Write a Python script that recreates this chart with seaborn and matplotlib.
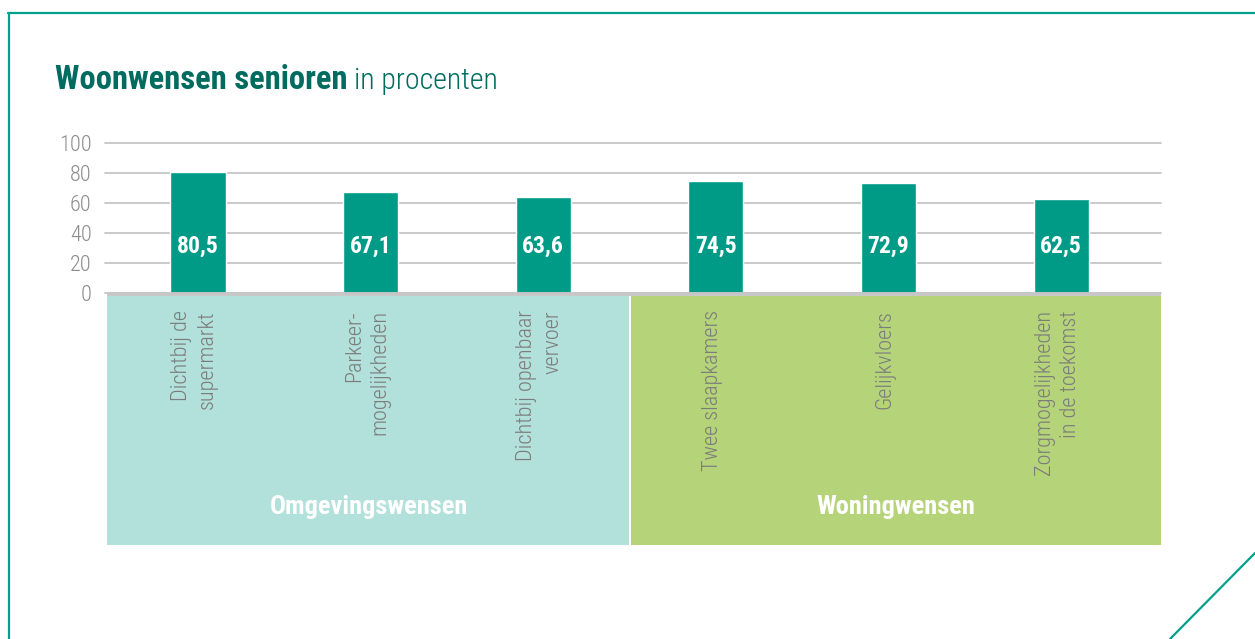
import matplotlib
matplotlib.use("Agg")
import matplotlib.pyplot as plt
from matplotlib.patches import Rectangle
from matplotlib.lines import Line2D
import seaborn as sns
import pandas as pd

# ---- data ----
categories = ["Dichtbij de\nsupermarkt", "Parkeer-\nmogelijkheden", "Dichtbij openbaar\nvervoer",
              "Twee slaapkamers", "Gelijkvloers", "Zorgmogelijkheden\nin de toekomst"]
groups = ["Omgevingswensen", "Omgevingswensen", "Omgevingswensen",
          "Woningwensen", "Woningwensen", "Woningwensen"]
values = [80.5, 67.1, 63.6, 74.5, 72.9, 62.5]
group_names = ["Omgevingswensen", "Woningwensen"]
yticks = [0, 20, 40, 60, 80, 100]

# ---- style ----
sns.set_style("white")
plt.rcParams['font.family'] = ['Roboto Condensed', 'DejaVu Sans']

TEAL = "#009B87"
DARK = "#006B5F"
PANEL = ["#B2E0DB", "#B5D47A"]
GRID = "#C6C6C6"
TICK = "#8C8C8C"
LABEL = "#7C7C7C"

W, H = 1255, 639
fig = plt.figure(figsize=(W / 100, H / 100), dpi=100)

# axes placement (pixels -> fractions)
ax_l, ax_r, ax_t, ax_b = 107, 1161, 138, 545
ax = fig.add_axes([ax_l / W, 1 - ax_b / H, (ax_r - ax_l) / W, (ax_b - ax_t) / H])

df = pd.DataFrame({"cat": categories, "value": values, "group": groups})
sns.barplot(data=df, x="cat", y="value", order=categories, width=0.319,
            color=TEAL, saturation=1, ax=ax, zorder=3, errorbar=None)

x0, x1 = -0.527, 5.579
ymin, ymax = -167.4, 103.0
ax.set_xlim(x0, x1)
ax.set_ylim(ymin, ymax)

# background panels
split = 2.503
ax.add_patch(Rectangle((x0, ymin), split - 0.006 - x0, -2 - ymin, color=PANEL[0], zorder=1, lw=0))
ax.add_patch(Rectangle((split + 0.006, ymin), x1 - split - 0.006, -2 - ymin, color=PANEL[1], zorder=1, lw=0))

# grid
for t in yticks:
    ax.plot([x0 - 0.012, x1], [t, t], color=GRID, lw=1.3, zorder=2, clip_on=False)
ax.plot([x0, x1], [-0.9, -0.9], color=GRID, lw=2.8, zorder=4, solid_capstyle='butt')

ax.set_yticks(yticks)
ax.set_yticklabels([str(t) for t in yticks], color=TICK, fontsize=16, fontweight='light')
ax.tick_params(axis='y', length=0, pad=11)
ax.set_xticks([])
ax.set_xlabel("")
ax.set_ylabel("")
for s in ax.spines.values():
    s.set_visible(False)
ax.patch.set_alpha(0)

# value labels
for i, v in enumerate(values):
    ax.text(i, 31, f"{v:.1f}".replace(".", ","), color="white", fontsize=17,
            fontweight="bold", ha="center", va="center", zorder=5)

# category labels
for i, c in enumerate(categories):
    ax.text(i - 0.02, -11.3, c, rotation=90, ha="center", va="top", multialignment="right",
            color=LABEL, fontsize=16, fontweight='light', linespacing=1.3, zorder=5)

# group labels
bounds = [(x0, split), (split, x1)]
for (a, b), gname in zip(bounds, group_names):
    ax.text((a + b) / 2, -142, gname, color="white", fontsize=19, fontweight="bold",
            ha="center", va="center", zorder=5)

# title
t1 = fig.text(55 / W, 1 - 89 / H, "Woonwensen senioren", color=DARK, fontsize=23.5,
              fontweight="bold", ha="left", va="baseline")
fig.canvas.draw()
bb = t1.get_window_extent()
fig.text((bb.x1 + 7) / W, 1 - 89 / H, "in procenten", color=DARK, fontsize=21.5,
         fontweight='light', ha="left", va="baseline")

# frame lines
BORDER = "#00A08A"
fig.add_artist(Line2D([8 / W, 1], [1 - 13 / H, 1 - 13 / H], color=BORDER, lw=1.6, transform=fig.transFigure))
fig.add_artist(Line2D([9 / W, 9 / W], [1 - 13 / H, 0], color=BORDER, lw=1.6, transform=fig.transFigure))
fig.add_artist(Line2D([1, 1170 / W], [1 - 553 / H, 0], color=BORDER, lw=1.6, transform=fig.transFigure))

fig.savefig("out.png", dpi=100)
